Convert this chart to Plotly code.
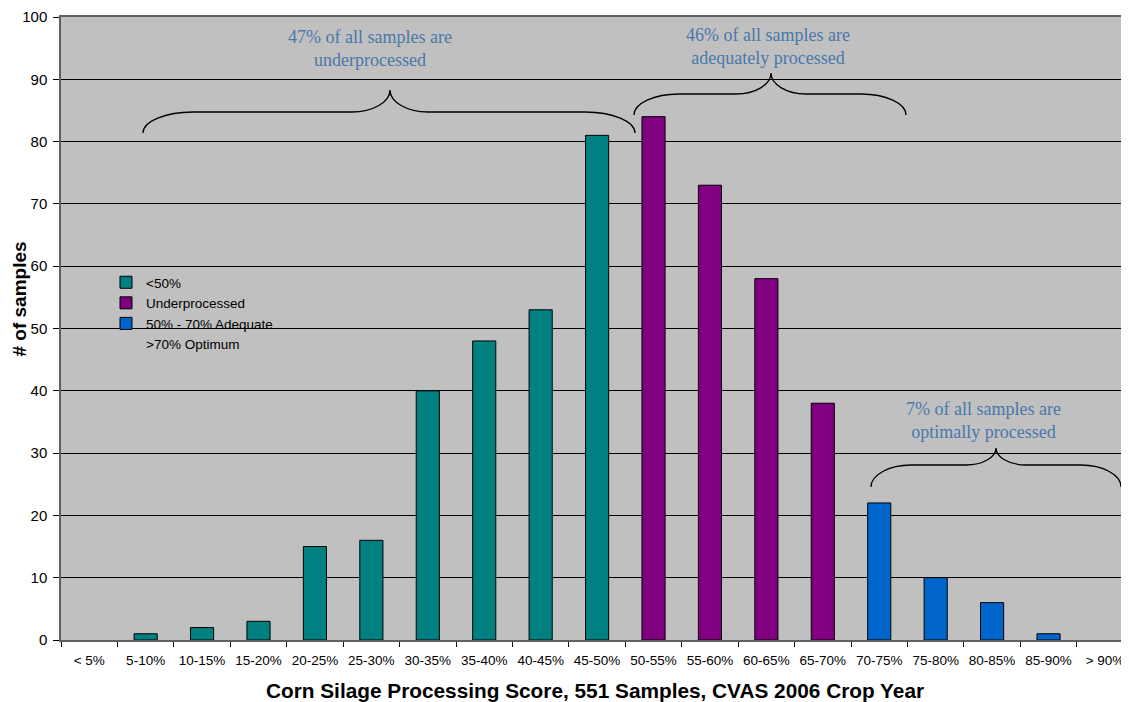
import plotly.graph_objects as go

categories = ["< 5%", "5-10%", "10-15%", "15-20%", "20-25%", "25-30%", "30-35%",
              "35-40%", "40-45%", "45-50%", "50-55%", "55-60%", "60-65%", "65-70%",
              "70-75%", "75-80%", "80-85%", "85-90%", "> 90%"]
counts = [0, 1, 2, 3, 15, 16, 40, 48, 53, 81, 84, 73, 58, 38, 22, 10, 6, 1, 0]

group_names = ["<50%", "Underprocessed", "50% - 70% Adequate"]
group_colors = ["#008080", "#800080", "#0066CC"]
group_ranges = [(0, 10), (10, 14), (14, 19)]
extra_legend_label = ">70% Optimum"

note_texts = ["47% of all samples are<br>underprocessed",
              "46% of all samples are<br>adequately processed",
              "7% of all samples are<br>optimally processed"]

x_title = "Corn Silage Processing Score, 551 Samples, CVAS 2006 Crop Year"
y_title = "# of samples"

# page geometry (pixels); the page body adds an 8px offset
OFF = 8
PAGE_W, PAGE_H = 1129, 702
L, T, BOT = 61, 17, 640          # plot area in page pixels
W, H = PAGE_W - OFF, PAGE_H - OFF
PW, PH = PAGE_W - L, BOT - T
CAT_W = 56.43

fig = go.Figure()
for name, color, (a, b) in zip(group_names, group_colors, group_ranges):
    fig.add_trace(go.Bar(
        x=categories[a:b], y=[v if v else None for v in counts[a:b]], name=name,
        marker=dict(color=color, line=dict(color="black", width=1)),
        width=0.41,
    ))
fig.add_trace(go.Bar(
    x=[None], y=[None], name=extra_legend_label,
    marker=dict(color="rgba(0,0,0,0)", line=dict(width=0)),
))


def pp(x, y):
    return (x - L) / PW, (BOT - y) / PH


def brace(x0, x1, xc, ye, ym, yp, a, b):
    def P(x, y):
        px, py = pp(x, y)
        return f"{px:.5f},{py:.5f}"
    d = f"M{P(x0, ye)} "
    d += f"C{P(x0, ye - 0.55 * (ye - ym))} {P(x0 + 0.45 * a, ym)} {P(x0 + a, ym)} "
    d += f"L{P(xc - b, ym)} "
    d += f"C{P(xc - 0.45 * b, ym)} {P(xc, ym - 0.45 * (ym - yp))} {P(xc, yp)} "
    d += f"C{P(xc, ym - 0.45 * (ym - yp))} {P(xc + 0.45 * b, ym)} {P(xc + b, ym)} "
    d += f"L{P(x1 - a, ym)} "
    d += f"C{P(x1 - 0.45 * a, ym)} {P(x1, ye - 0.55 * (ye - ym))} {P(x1, ye)}"
    return d


braces = [
    (143, 635, 390, 133, 112, 90, 50, 38),
    (634, 906, 771, 115, 94, 73, 45, 35),
    (871, 1121, 996, 487, 465, 448, 40, 30),
]
for br in braces:
    fig.add_shape(type="path", path=brace(*br), xref="paper", yref="paper",
                  line=dict(color="black", width=1.3))

note_pos = [(370, 49), (768, 47), (983, 420)]
for txt, (x, y) in zip(note_texts, note_pos):
    px, py = pp(x, y)
    fig.add_annotation(x=px, y=py, xref="paper", yref="paper", text=txt,
                       showarrow=False, xanchor="center", yanchor="middle",
                       font=dict(family="Liberation Serif", size=18, color="#4A78AA"))

# y-axis title placed as rotated text
tx, ty = pp(18.5, 299)
fig.add_annotation(x=tx, y=ty, xref="paper", yref="paper", text=f"<b>{y_title}</b>",
                   textangle=-90, showarrow=False, xanchor="center", yanchor="middle",
                   font=dict(size=19, color="black"))

fig.update_layout(
    width=W, height=H,
    margin=dict(l=L - OFF, r=0, t=T - OFF, b=H - (BOT - OFF), autoexpand=False),
    paper_bgcolor="white",
    plot_bgcolor="#C0C0C0",
    barmode="overlay",
    font=dict(family="Arial, Liberation Sans, sans-serif", color="black"),
    showlegend=True,
    legend=dict(x=(106 - L) / PW, y=pp(0, 267)[1], xanchor="left", yanchor="top",
                bgcolor="rgba(0,0,0,0)", font=dict(size=13.5), tracegroupgap=0),
)
fig.update_xaxes(
    type="category", categoryorder="array", categoryarray=categories,
    range=[-0.5, -0.5 + PW / CAT_W], automargin=False,
    tickson="boundaries", ticks="outside", ticklen=5, tickcolor="black",
    showline=True, linecolor="#606060", linewidth=1.5, mirror=True,
    showgrid=False, tickfont=dict(size=13.5), tickangle=0, ticklabelstandoff=7,
    title=dict(text=f"<b>{x_title}</b>", font=dict(size=20.8), standoff=16),
)
fig.update_yaxes(
    range=[0, 100], dtick=10, ticks="outside", ticklen=6, tickcolor="black",
    showline=True, linecolor="#606060", linewidth=1.5, automargin=False,
    showgrid=True, gridcolor="black", gridwidth=1,
    tickfont=dict(size=15), zeroline=False, ticklabelstandoff=3,
)

fig.write_html("out.html")
